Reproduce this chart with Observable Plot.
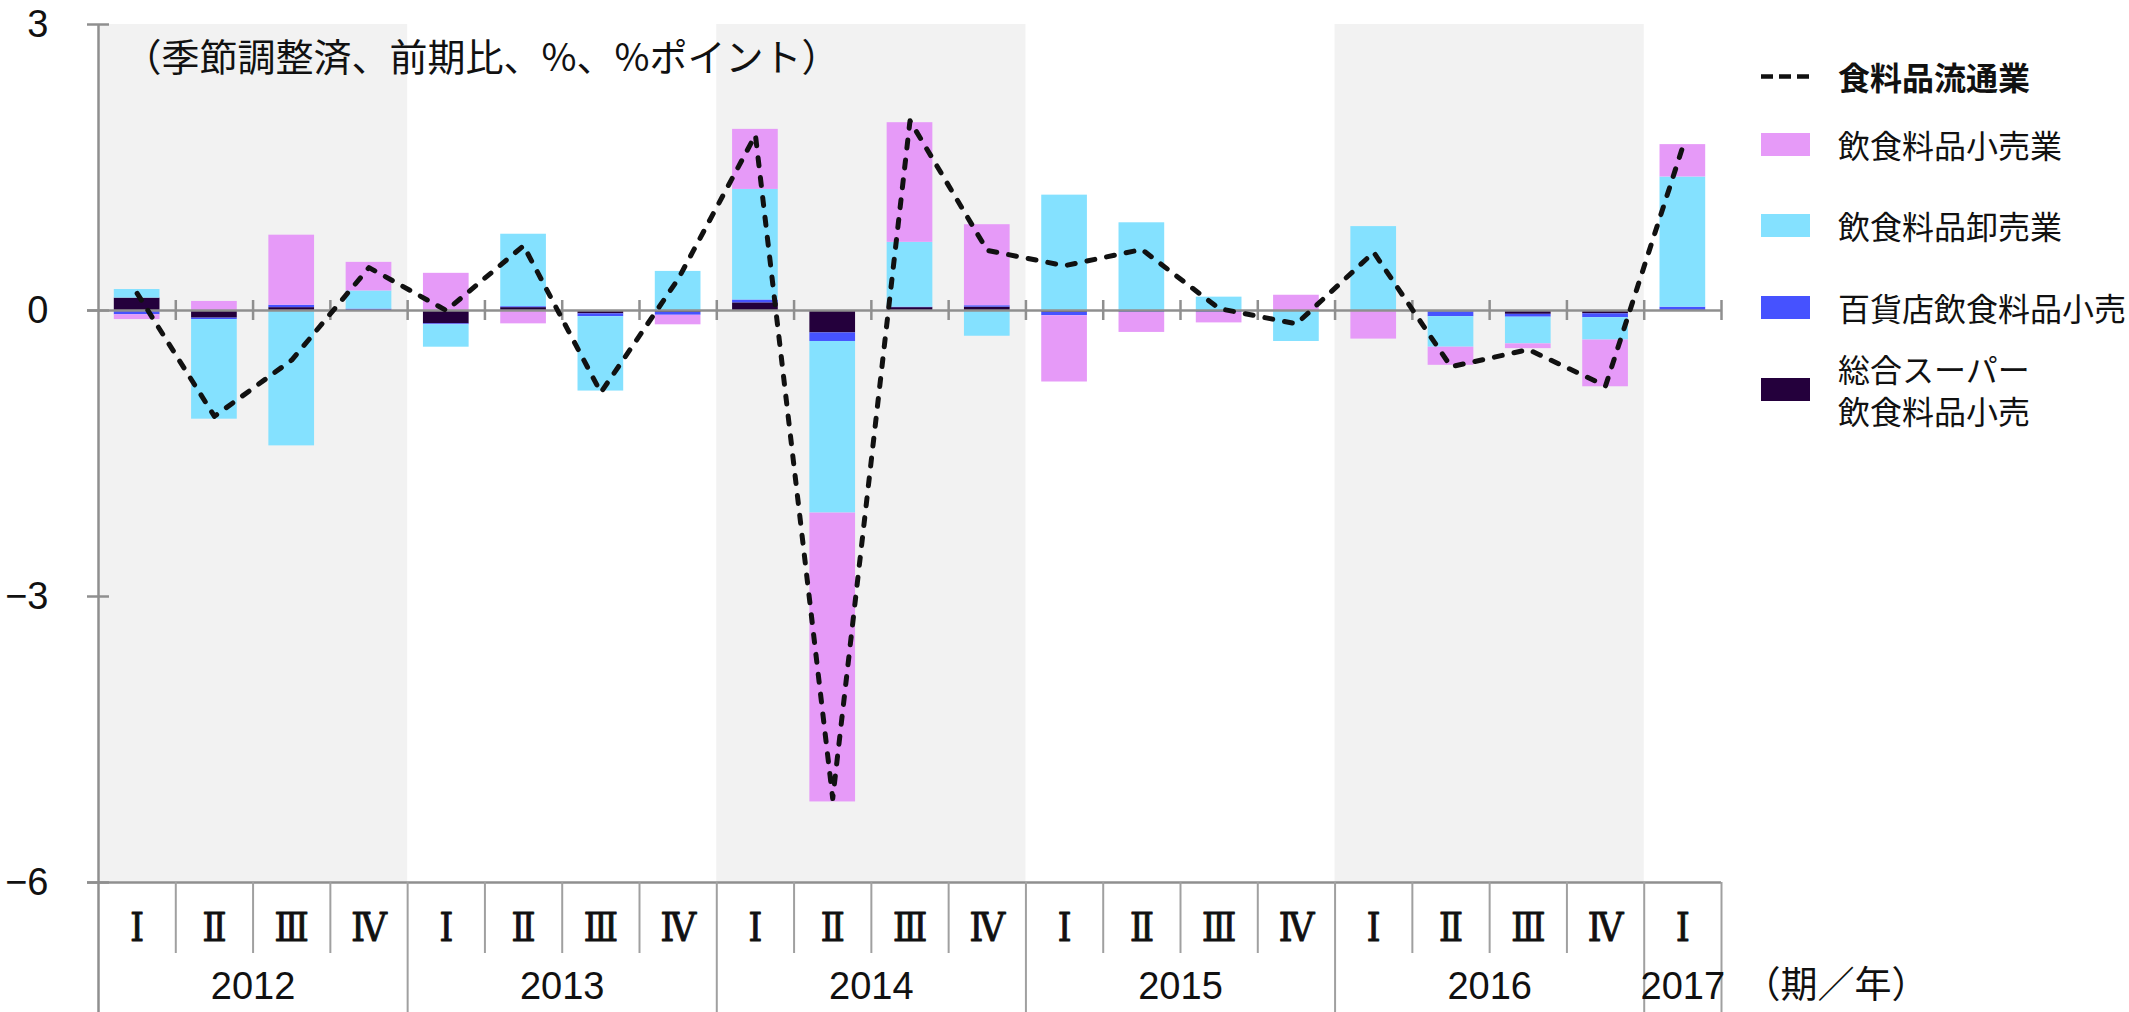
<!DOCTYPE html>
<html>
<head>
<meta charset="utf-8">
<script src="https://cdn.jsdelivr.net/npm/d3@7"></script>
<script src="https://cdn.jsdelivr.net/npm/@observablehq/plot@0.6"></script>
<style>
  html, body { margin: 0; padding: 0; background: #fff; overflow: hidden; width: 2129px; height: 1012px; }
  #wrap { position: relative; width: 2129px; height: 1012px; overflow: hidden; }
  .lg { position: absolute; left: 1761px; display: flex; align-items: center; font-family: "Noto Sans CJK JP", sans-serif; font-size: 32px; color: #111; white-space: nowrap; }
  .lg .sw { width: 49px; height: 23px; flex: none; }
  .lg .tx { margin-left: 28px; line-height: 42px; }
</style>
</head>
<body>
<div id="wrap"></div>
<script>
// ---- data ----
const quarterYear = [2012,2012,2012,2012,2013,2013,2013,2013,2014,2014,2014,2014,2015,2015,2015,2015,2016,2016,2016,2016,2017];
const quarterLabel = ["Ⅰ","Ⅱ","Ⅲ","Ⅳ","Ⅰ","Ⅱ","Ⅲ","Ⅳ","Ⅰ","Ⅱ","Ⅲ","Ⅳ","Ⅰ","Ⅱ","Ⅲ","Ⅳ","Ⅰ","Ⅱ","Ⅲ","Ⅳ","Ⅰ"];
const shadedYears = [2012, 2014, 2016];
const seriesNames = ["総合スーパー飲食料品小売", "百貨店飲食料品小売", "飲食料品卸売業", "飲食料品小売業"];
const seriesColors = ["#24003C", "#4652FF", "#84E1FF", "#E69AF8"];
const lineName = "食料品流通業";
const superVals     = [0.13,-0.08,0.03,0.00,-0.14,0.03,-0.035,-0.02,0.08,-0.235,0.03,0.035,-0.02,0.00,0.00,0.00,0.00,-0.015,-0.04,-0.035,0.00];
const deptVals      = [-0.045,-0.015,0.025,0.015,-0.01,0.01,-0.03,-0.03,0.03,-0.09,0.005,0.015,-0.035,-0.02,-0.02,0.00,0.00,-0.05,-0.03,-0.04,0.035];
const wholesaleVals = [0.09,-1.045,-1.42,0.19,-0.235,0.76,-0.78,0.41,1.16,-1.80,0.68,-0.27,1.21,0.92,0.14,-0.325,0.88,-0.32,-0.28,-0.235,1.365];
const retailVals    = [-0.05,0.095,0.735,0.30,0.39,-0.14,0.00,-0.10,0.63,-3.03,1.255,0.85,-0.695,-0.21,-0.11,0.16,-0.30,-0.19,-0.05,-0.49,0.34];
const totalVals     = [0.18,-1.11,-0.52,0.45,0.00,0.68,-0.86,0.33,1.84,-5.12,1.99,0.63,0.47,0.64,0.02,-0.14,0.61,-0.59,-0.41,-0.79,1.72];
const yTicks = [3, 0, -3, -6];
const yDomain = [-6, 3];
const subtitle = "（季節調整済、前期比、%、%ポイント）";
const xUnitLabel = "（期／年）";

// ---- derived tables ----
const rows = quarterYear.map((y, i) => ({i, i1: i + 1, mid: i + 0.5, year: y, q: quarterLabel[i], total: totalVals[i]}));
const seriesVals = [superVals, deptVals, wholesaleVals, retailVals];
const stackRows = [];
rows.forEach((r, i) => seriesNames.forEach((s, k) => stackRows.push({i: r.i, i1: r.i1, series: s, value: seriesVals[k][i]})));
const years = Array.from(new Set(quarterYear));
const yearRows = years.map(y => {
  const a = quarterYear.indexOf(y), b = quarterYear.lastIndexOf(y) + 1;
  return {year: y, x1: a, x2: b, mid: (a + b) / 2};
});
const shadeRows = yearRows.filter(d => shadedYears.includes(d.year));
const nQ = quarterYear.length;
const yearBounds = yearRows.map(d => d.x2);
const quarterBounds = d3.range(1, nQ).filter(b => !yearBounds.includes(b));
const allBounds = d3.range(1, nQ + 1);

const gray = "#8f8f8f";
const cjk = "'Noto Sans CJK JP', sans-serif";

const chart = Plot.plot({
  width: 2129,
  height: 1012,
  marginLeft: 98,
  marginRight: 408,
  marginTop: 24,
  marginBottom: 130,
  style: {background: "transparent", overflow: "visible", fontFamily: "'Liberation Sans', sans-serif", color: "#111"},
  x: {domain: [0, nQ], axis: null},
  y: {domain: yDomain, axis: null},
  color: {domain: seriesNames, range: seriesColors},
  marks: [
    Plot.rect(shadeRows, {x1: "x1", x2: "x2", y1: yDomain[0], y2: yDomain[1], fill: "#F2F2F2"}),
    Plot.rectY(stackRows, Plot.stackY({x1: "i", x2: "i1", y: "value", fill: "series", insetLeft: 15.8, insetRight: 15.8})),
    // axes lines
    Plot.ruleY([0, yDomain[0]], {stroke: gray, strokeWidth: 2.5, insetLeft: -11}),
    Plot.ruleY(yTicks, {x1: 0, x2: 0, stroke: gray, strokeWidth: 2.5, insetLeft: -11, insetRight: -11}),
    Plot.ruleX(allBounds, {y1: 0, y2: 0, stroke: gray, strokeWidth: 2.5, insetTop: -10, insetBottom: -10}),
    Plot.ruleX([0], {stroke: gray, strokeWidth: 2.5, insetBottom: -130}),
    Plot.ruleX(quarterBounds, {y1: yDomain[0], y2: yDomain[0], stroke: "#a0a0a0", strokeWidth: 2, insetBottom: -71}),
    Plot.ruleX(yearBounds, {y1: yDomain[0], y2: yDomain[0], stroke: "#a0a0a0", strokeWidth: 2, insetBottom: -130}),
    Plot.axisY({ticks: yTicks, tickSize: 0, tickPadding: 50, fontSize: 38, tickFormat: d => d < 0 ? "−" + (-d) : String(d)}),
    // total line
    Plot.line(rows, {x: "mid", y: "total", stroke: "#111", strokeWidth: 5, strokeDasharray: "8,12", strokeLinecap: "round", strokeLinejoin: "round"}),
    // category labels
    Plot.text(rows, {x: "mid", text: "q", frameAnchor: "bottom", dy: 46, lineAnchor: "middle", fontSize: 40, fontFamily: "'DejaVu Serif Condensed', 'DejaVu Serif', serif", fill: "#111", stroke: "#111", strokeWidth: 0.8}),
    Plot.text(yearRows, {x: "mid", text: d => String(d.year), frameAnchor: "bottom", dy: 104, lineAnchor: "middle", fontSize: 38, fontFamily: "'Liberation Sans Narrow', 'Liberation Sans', sans-serif", fill: "#111"}),
    Plot.text([xUnitLabel], {frameAnchor: "bottom-right", dx: 22, dy: 104, textAnchor: "start", lineAnchor: "middle", fontSize: 37, fontFamily: cjk, fill: "#111"}),
    Plot.text([subtitle], {frameAnchor: "top-left", dx: 25, dy: 34, textAnchor: "start", lineAnchor: "middle", fontSize: 38, fontFamily: cjk, fill: "#111"})
  ]
});
const wrap = document.getElementById("wrap");
wrap.appendChild(chart);

// ---- legend ----
const legendItems = [
  {type: "line", label: lineName, bold: true, center: 76},
  {type: "rect", label: seriesNames[3], color: seriesColors[3], center: 144},
  {type: "rect", label: seriesNames[2], color: seriesColors[2], center: 225},
  {type: "rect", label: seriesNames[1], color: seriesColors[1], center: 307},
  {type: "rect", label: "総合スーパー<br>飲食料品小売", color: seriesColors[0], center: 389, twoLine: true}
];
legendItems.forEach(it => {
  const div = document.createElement("div");
  div.className = "lg";
  const h = it.twoLine ? 84 : 42;
  div.style.top = (it.center - h / 2) + "px";
  let sw;
  if (it.type === "line") {
    sw = `<svg class="sw" width="49" height="23" viewBox="0 0 49 23"><line x1="0" x2="49" y1="11.5" y2="11.5" stroke="#111" stroke-width="4.5" stroke-dasharray="12,6"/></svg>`;
  } else {
    sw = `<div class="sw" style="background:${it.color}"></div>`;
  }
  div.innerHTML = sw + `<div class="tx" style="${it.bold ? 'font-weight:700;' : ''}">${it.label}</div>`;
  wrap.appendChild(div);
});
</script>
</body>
</html>
